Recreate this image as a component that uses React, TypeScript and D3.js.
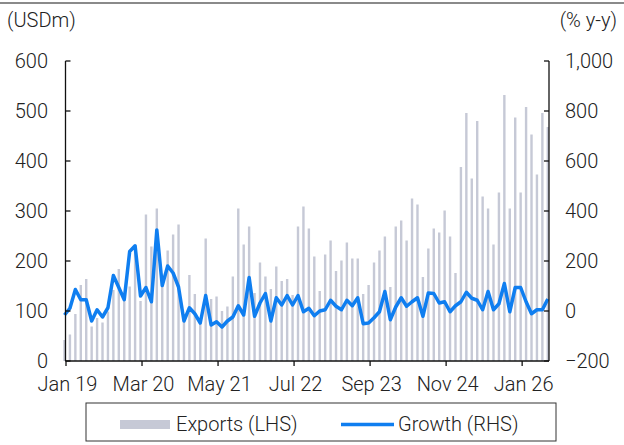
import React, { useEffect, useRef } from "react";
import * as d3 from "d3";

// monthly exports (USDm), Jan 19 onwards
const exportsUSD = [
  42, 53, 94, 152, 164, 69, 86, 77, 99, 142, 184, 126, 149, 229, 120, 293, 229, 305,
  160, 221, 253, 273, 92, 172, 134, 86, 245, 124, 129, 100, 109, 169, 305, 233, 269,
  136, 197, 169, 144, 189, 160, 164, 132, 269, 309, 265, 209, 140, 213, 241, 180, 201,
  237, 205, 205, 134, 152, 197, 221, 249, 148, 269, 281, 241, 325, 313, 168, 225, 265,
  257, 301, 249, 176, 388, 496, 365, 480, 329, 305, 233, 337, 532, 305, 487, 337, 508,
  453, 373, 496, 468,
];

// growth (% y-y)
const growthPct = [
  -16, 11, 86, 45, 45, -40, 5, -24, 13, 142, 94, 45, 238, 261, 60, 94, 37, 324, 102,
  180, 152, 96, -40, 13, -11, -48, 62, -56, -43, -64, -40, -24, 21, -16, 134, -21, 32,
  70, -40, 53, 24, 62, 24, 62, -3, 11, -19, 0, 5, 43, 19, 5, 43, 21, 53, -51, -48, -27,
  -3, 78, -35, 16, 53, 19, 37, 53, -21, 72, 70, 32, 37, -3, 21, 37, 75, 51, 43, 5, 78,
  5, 29, 110, -3, 94, 94, 37, -11, 5, 5, 48,
];

const tickLabels = ["Jan 19", "Mar 20", "May 21", "Jul 22", "Sep 23", "Nov 24", "Jan 26"];
const tickIndex = [0, 14, 28, 42, 56, 70, 84];
const leftTicks = [0, 100, 200, 300, 400, 500, 600];
const rightTicks = [-200, 0, 200, 400, 600, 800, 1000];

const W = 624;
const H = 445;
const FONT = "Roboto, 'Noto Sans', sans-serif";
const FS = 20;

export default function App() {
  const ref = useRef<SVGSVGElement>(null);

  useEffect(() => {
    const svg = d3.select(ref.current);
    svg.selectAll("*").remove();

    const left = 65.5,
      right = 549,
      top = 61,
      bottom = 361;

    const x = d3.scaleLinear().domain([0, exportsUSD.length - 1]).range([64.5, 547.8]);
    const yL = d3.scaleLinear().domain([0, 600]).range([bottom, top]);
    const yR = d3.scaleLinear().domain([-200, 1000]).range([bottom, top]);

    // top rule
    svg.append("rect").attr("x", 0).attr("y", 2).attr("width", W).attr("height", 2).attr("fill", "#8a8a8a");

    // unit labels
    svg.append("text").attr("x", 7).attr("y", 27).attr("font-size", FS).text("(USDm)");
    svg
      .append("text")
      .attr("x", 617)
      .attr("y", 27)
      .attr("font-size", FS)
      .attr("text-anchor", "end")
      .text("(% y-y)");

    // bars
    svg
      .append("g")
      .selectAll("rect")
      .data(exportsUSD)
      .enter()
      .append("rect")
      .attr("x", (_d, i) => x(i) - 1.2)
      .attr("width", 2.4)
      .attr("y", (d) => yL(d))
      .attr("height", (d) => bottom - yL(d))
      .attr("fill", "#c6c9d6");

    // growth line
    const line = d3
      .line<number>()
      .x((_d, i) => x(i))
      .y((d) => yR(d));
    svg
      .append("path")
      .datum(growthPct)
      .attr("d", line)
      .attr("fill", "none")
      .attr("stroke", "#0f7ef0")
      .attr("stroke-width", 3.5)
      .attr("stroke-linejoin", "round");

    // axes
    const axis = svg.append("g").attr("stroke", "#111").attr("stroke-width", 1.3);
    axis.append("line").attr("x1", left).attr("x2", left).attr("y1", top).attr("y2", bottom);
    axis.append("line").attr("x1", right).attr("x2", right).attr("y1", top).attr("y2", bottom);
    axis.append("line").attr("x1", left).attr("x2", right).attr("y1", bottom).attr("y2", bottom);

    leftTicks.forEach((t) => {
      axis.append("line").attr("x1", left).attr("x2", left + 5).attr("y1", yL(t)).attr("y2", yL(t));
      svg
        .append("text")
        .attr("x", 48)
        .attr("y", yL(t))
        .attr("dy", "0.36em")
        .attr("text-anchor", "end")
        .attr("font-size", FS)
        .text(t);
    });

    rightTicks.forEach((t) => {
      axis.append("line").attr("x1", right - 5).attr("x2", right).attr("y1", yR(t)).attr("y2", yR(t));
      svg
        .append("text")
        .attr("x", 565)
        .attr("y", yR(t))
        .attr("dy", "0.36em")
        .attr("font-size", FS)
        .text(t < 0 ? "\u2212" + Math.abs(t) : d3.format(",")(t));
    });

    tickIndex.forEach((idx, k) => {
      const px = x(idx) + 1.5;
      axis.append("line").attr("x1", px).attr("x2", px).attr("y1", bottom).attr("y2", bottom + 5);
      svg
        .append("text")
        .attr("x", px + 1.5)
        .attr("y", 391)
        .attr("text-anchor", "middle")
        .attr("font-size", FS)
        .text(tickLabels[k]);
    });

    // legend
    svg
      .append("rect")
      .attr("x", 86)
      .attr("y", 403)
      .attr("width", 470)
      .attr("height", 38)
      .attr("fill", "none")
      .attr("stroke", "#333")
      .attr("stroke-width", 1);
    svg.append("rect").attr("x", 120).attr("y", 420).attr("width", 50).attr("height", 9).attr("fill", "#c6c9d6");
    svg.append("text").attr("x", 176).attr("y", 431).attr("font-size", FS).text("Exports (LHS)");
    svg
      .append("line")
      .attr("x1", 341)
      .attr("x2", 394)
      .attr("y1", 424.5)
      .attr("y2", 424.5)
      .attr("stroke", "#0f7ef0")
      .attr("stroke-width", 3.5);
    svg.append("text").attr("x", 398).attr("y", 431).attr("font-size", FS).text("Growth (RHS)");
  }, []);

  return (
    <div style={{ position: "absolute", left: 0, top: 0 }}>
      <svg
        ref={ref}
        width={W}
        height={H}
        style={{ display: "block", fontFamily: FONT, fontWeight: 300, fill: "#222" }}
      />
    </div>
  );
}
